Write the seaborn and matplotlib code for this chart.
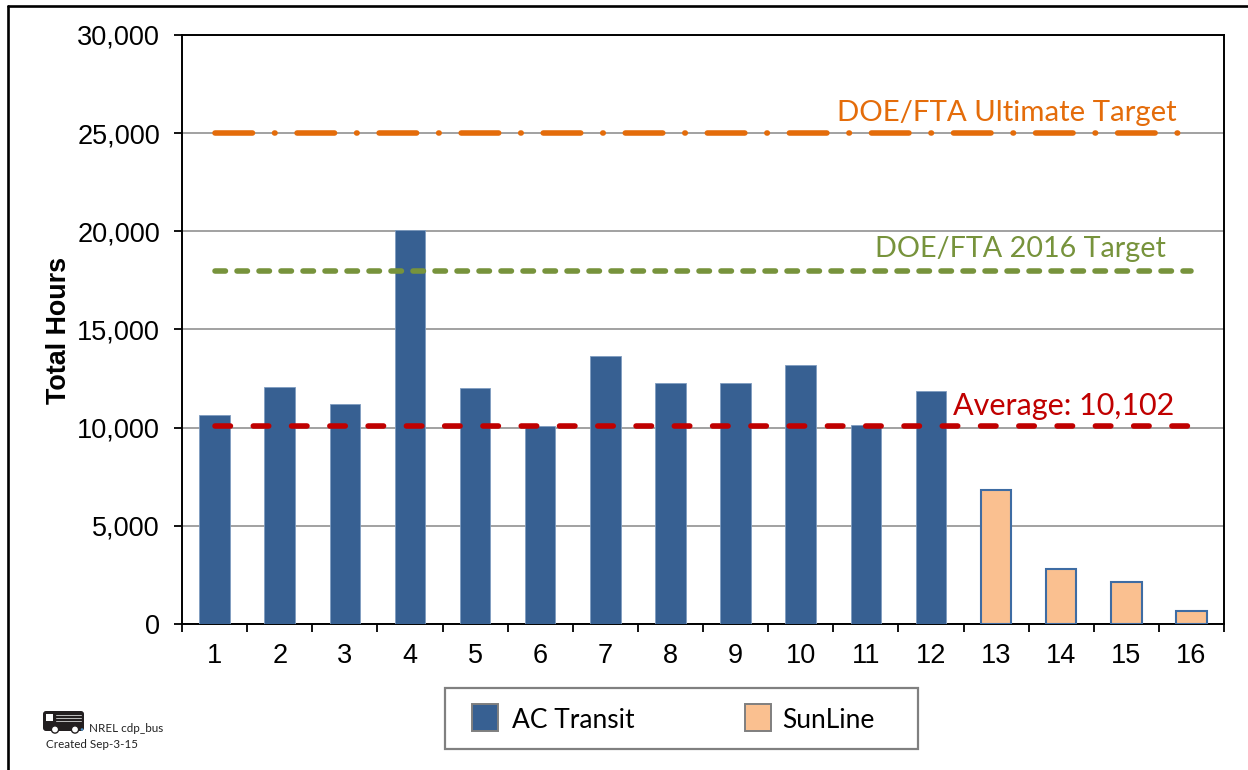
import numpy as np
import pandas as pd
import matplotlib
matplotlib.use("Agg")
import matplotlib.pyplot as plt
import seaborn as sns
from matplotlib.patches import Rectangle, FancyBboxPatch, Circle

buses = [str(i) for i in range(1, 17)]
hours = [10650, 12050, 11200, 20050, 12000, 10100, 13650, 12280, 12300, 13180, 10150, 11850, 6800, 2800, 2130, 680]
fleets = ["AC Transit"] * 12 + ["SunLine"] * 4
average = 10102
target_2016 = 18000
target_ultimate = 25000
y_ticks = [0, 5000, 10000, 15000, 20000, 25000, 30000]

BLUE = "#376092"
PEACH = "#FAC090"
ORANGE = "#E46C0A"
GREEN = "#77933C"
RED = "#C00000"

W, H = 1248, 770
df = pd.DataFrame({"Bus": buses, "Hours": hours, "Fleet": fleets})

sns.set_theme(style="white")
plt.rcParams["font.family"] = ["Liberation Sans", "DejaVu Sans"]
CAL = ["Lato", "DejaVu Sans"]

fig = plt.figure(figsize=(W / 100, H / 100), dpi=100, facecolor="white")
ax = fig.add_axes([182 / W, 1 - 624 / H, (1224 - 182) / W, (624 - 35) / H])

sns.barplot(data=df, x="Bus", y="Hours", hue="Fleet", dodge=False, order=buses,
            palette={"AC Transit": BLUE, "SunLine": PEACH}, width=0.47, saturation=1,
            legend=False, zorder=3, ax=ax)

# blue bars only get a faint rim, peach ones a solid blue outline
for cont, ec, lw in zip(ax.containers, ["#7F9CC0", "#3E6CA3"], [0.6, 1.5]):
    for bar in cont:
        bar.set_edgecolor(ec)
        bar.set_linewidth(lw)

ax.set_xlim(-0.5, 15.5)
ax.set_ylim(0, 30000)
ax.set_yticks(y_ticks)
ax.set_yticklabels([f"{v:,}" for v in y_ticks], fontsize=19.5, color="black")
ax.set_xticks(np.arange(-0.5, 16.5), minor=True)
ax.tick_params(axis="x", which="major", length=0, pad=14, labelsize=19.5, labelcolor="black")
ax.tick_params(axis="x", which="minor", length=5.8, width=1.3, color="black", direction="out", bottom=True)
ax.tick_params(axis="y", length=5.8, width=1.3, color="black", direction="out", left=True, pad=10)
ax.yaxis.grid(True, color="#9A9A9A", linewidth=1.3, zorder=1)
ax.set_axisbelow(True)
for s in ax.spines.values():
    s.set_visible(True)
    s.set_color("black")
    s.set_linewidth(1.4)
ax.set_xlabel("")
ax.set_ylabel("")
fig.text(58.5 / W, 1 - 330 / H, "Total Hours", fontsize=19.4, fontweight="bold", color="black",
         rotation=90, ha="center", va="center")

# reference lines run from the centre of bar 1 to the centre of bar 16
xs = [0, 15]
ax.plot(xs, [target_ultimate] * 2, color=ORANGE, lw=4, zorder=4,
        dash_capstyle="round", dashes=(6.75, 3.96, 0.1, 3.96))
ax.plot(xs, [target_2016] * 2, color=GREEN, lw=4, zorder=4,
        dash_capstyle="round", dashes=(1.88, 2.08))
ax.plot(xs, [average] * 2, color=RED, lw=4, zorder=4,
        dash_capstyle="round", dashes=(2.78, 4.11))

fig.text(1007 / W, 1 - 113 / H, "DOE/FTA Ultimate Target", color=ORANGE,
         fontsize=21.2, family=CAL, ha="center", va="center")
fig.text(1020 / W, 1 - 249 / H, "DOE/FTA 2016 Target", color=GREEN,
         fontsize=20.7, family=CAL, ha="center", va="center")
fig.text(1064 / W, 1 - 406 / H, "Average: 10,102", color=RED,
         fontsize=22, family=CAL, ha="center", va="center")

# outer frame
fig.add_artist(plt.Line2D([8 / W, 8 / W], [0, 1 - 6 / H], color="black", lw=1.9))
fig.add_artist(plt.Line2D([8 / W, 1], [1 - 6 / H, 1 - 6 / H], color="black", lw=1.9))

# legend box
fig.add_artist(Rectangle((445 / W, 1 - 749 / H), 473 / W, 61 / H, transform=fig.transFigure,
                         fc="white", ec="#808080", lw=1.6))
for x0, c, name, tx in [(472, BLUE, "AC Transit", 512), (745, PEACH, "SunLine", 782)]:
    fig.add_artist(Rectangle((x0 / W, 1 - 731 / H), 26 / W, 27 / H, transform=fig.transFigure,
                             fc=c, ec="#7F7F7F", lw=1.4))
    fig.text(tx / W, 1 - 720 / H, name, fontsize=19, family=CAL, color="black", va="center", ha="left")

# bus icon and creation note
fig.text(89 / W, 1 - 728 / H, "NREL cdp_bus", fontsize=8.4, family=CAL, color="#222222", va="center")
fig.text(46 / W, 1 - 744 / H, "Created Sep-3-15", fontsize=8.4, family=CAL, color="#222222", va="center")
icon = fig.add_axes([40 / W, 1 - 738 / H, 48 / W, 30 / H])
icon.set_xlim(40, 88)
icon.set_ylim(738, 708)
icon.axis("off")
icon.add_patch(FancyBboxPatch((43, 711), 41, 20, boxstyle="round,pad=0,rounding_size=3", fc="#231F20", ec="none"))
icon.add_patch(Rectangle((46, 714), 7, 7, fc="white", ec="none"))
for yy in (715, 718, 721):
    icon.plot([56, 81], [yy, yy], color="#BFBFBF", lw=0.7)
for cx in (55, 75):
    icon.add_patch(Circle((cx, 729.5), 3.6, fc="white", ec="#231F20", lw=1))
icon.add_patch(Circle((82, 729.5), 1.3, fc="#4A90C8", ec="none"))

fig.savefig("out.png", dpi=100)
